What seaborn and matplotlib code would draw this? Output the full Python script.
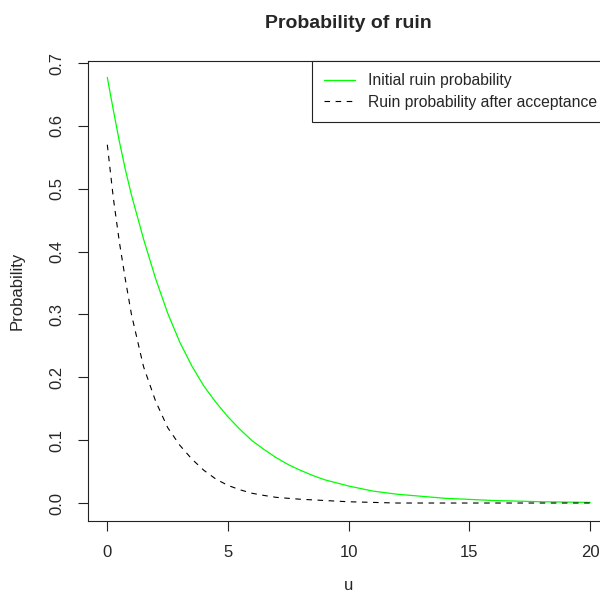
import matplotlib
matplotlib.use("Agg")
import pandas as pd
import seaborn as sns
from matplotlib import pyplot as plt

# values
u = [0, 0.25, 0.5, 0.75, 1, 1.5, 2, 2.5, 3, 3.5, 4, 4.5, 5, 5.5, 6, 6.5, 7, 7.5, 8, 8.5,
     9, 9.5, 10, 11, 12, 14, 16, 18, 20]
initial_ruin = [0.677, 0.625, 0.575, 0.53, 0.49, 0.42, 0.357, 0.302, 0.256, 0.218, 0.186, 0.160,
                0.137, 0.117, 0.099, 0.085, 0.072, 0.061, 0.052, 0.044, 0.037, 0.032, 0.027,
                0.019, 0.014, 0.0075, 0.004, 0.002, 0.001]
ruin_after = [0.57, 0.485, 0.415, 0.355, 0.30, 0.217, 0.162, 0.12, 0.092, 0.07, 0.052, 0.038,
              0.028, 0.021, 0.0155, 0.012, 0.009, 0.0075, 0.006, 0.005, 0.004, 0.003, 0.002,
              0.001, 0.0, 0.0, 0.0, 0.0, 0.0]
labels = ["Initial ruin probability", "Ruin probability after acceptance"]
x_ticks = [0, 5, 10, 15, 20]
y_ticks = [0.0, 0.1, 0.2, 0.3, 0.4, 0.5, 0.6, 0.7]

sns.set_style("white")
plt.rcParams["font.family"] = ["Liberation Sans", "DejaVu Sans"]
plt.rcParams["font.size"] = 12

data = pd.DataFrame({"u": u, "initial": initial_ruin, "after": ruin_after})

fig = plt.figure(figsize=(6, 5.95), dpi=100)
ax = fig.add_axes([88 / 600, 1 - 521 / 595, 521.5 / 600, 460 / 595])

sns.lineplot(data=data, x="u", y="initial", ax=ax, color="#00ff00", linewidth=0.9, label=labels[0])
sns.lineplot(data=data, x="u", y="after", ax=ax, color="black", linewidth=0.8,
             linestyle=(0, (5, 5)), label=labels[1])

ax.set_xlim(-0.8, 20.8)
ax.set_ylim(-0.0286, 0.7032)
ax.set_xticks(x_ticks)
ax.set_xticklabels([str(t) for t in x_ticks])
ax.set_yticks(y_ticks)
ax.set_yticklabels([f"{t:.1f}" for t in y_ticks], rotation=90, va="center")
ax.tick_params(axis="both", direction="out", length=7.5, width=0.8, color="#222222",
               pad=9.5, labelsize=12, bottom=True, left=True)

for side in ax.spines.values():
    side.set_color("#222222")
    side.set_linewidth(0.8)

ax.set_title("Probability of ruin", fontsize=14, fontweight="bold", pad=24)
ax.set_xlabel("u", fontsize=12, labelpad=13)
ax.set_ylabel("Probability", fontsize=12, labelpad=18)

leg = ax.legend(loc="upper right", bbox_to_anchor=(1, 1), borderaxespad=0, fancybox=False,
                frameon=True, edgecolor="#222222", framealpha=1, fontsize=11.3,
                handlelength=1.97, handletextpad=0.83, borderpad=0.78, labelspacing=0.41)
leg.get_frame().set_linewidth(0.8)

fig.savefig("out.png", dpi=100)
